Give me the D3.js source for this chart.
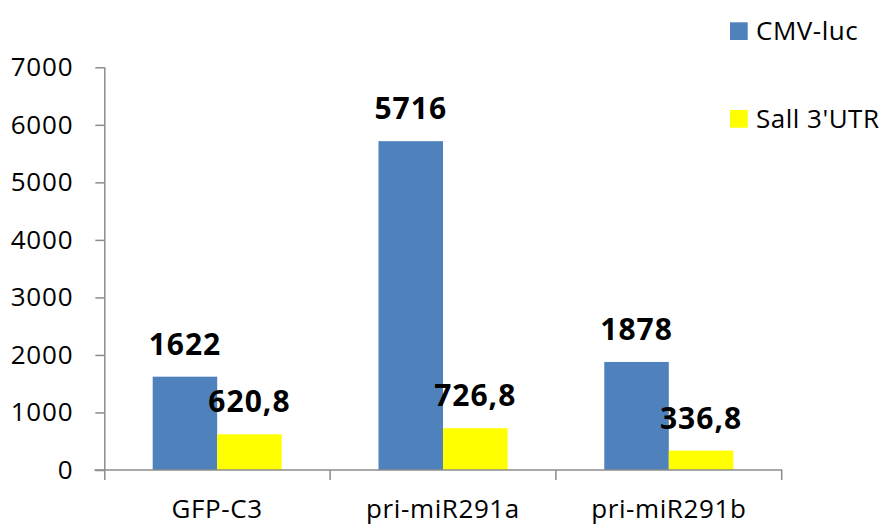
<!DOCTYPE html>
<html>
<head>
<meta charset="utf-8">
<script src="https://cdn.jsdelivr.net/npm/d3@7"></script>
<style>
  html, body { margin: 0; padding: 0; background: #fff; }
  svg { display: block; }
  text { font-family: "Open Sans", sans-serif; fill: #000; }
</style>
</head>
<body>
<svg id="chart" width="886" height="525"></svg>
<script>
// Luciferase readings per construct
const categories = ["GFP-C3", "pri-miR291a", "pri-miR291b"];
const seriesNames = ["CMV-luc", "Sall 3'UTR"];
const cmvLuc = [1622, 5716, 1878];
const sall3UTR = [620.8, 726.8, 336.8];
const yTicks = [0, 1000, 2000, 3000, 4000, 5000, 6000, 7000];
const seriesColors = ["#4F81BD", "#FFFF00"];

const seriesValues = [cmvLuc, sall3UTR];
const rows = categories.map((c, i) => ({
  category: c,
  values: seriesNames.map((s, j) => ({ series: s, value: seriesValues[j][i], idx: j }))
}));

const svg = d3.select("#chart");
const axisColor = "#8c8c8c";

const plot = { left: 104.3, right: 781.7, top: 67.3, bottom: 470 };

const y = d3.scaleLinear().domain([0, 7000]).range([plot.bottom, plot.top]);
const x0 = d3.scaleBand().domain(categories).range([plot.left, plot.right]).paddingInner(0).paddingOuter(0);
const x1 = d3.scaleBand().domain(seriesNames).range([0, x0.bandwidth()]).paddingInner(0).paddingOuter(0.75);

// comma as decimal separator
const locale = d3.formatLocale({ decimal: ",", thousands: "", grouping: [3], currency: ["", ""] });
const fmt = locale.format(".1~f");

// bars
const groups = svg.append("g").selectAll("g")
  .data(rows).join("g")
  .attr("transform", d => `translate(${x0(d.category)},0)`);

groups.selectAll("rect")
  .data(d => d.values).join("rect")
  .attr("x", d => x1(d.series))
  .attr("y", d => y(d.value))
  .attr("width", x1.bandwidth())
  .attr("height", d => y(0) - y(d.value))
  .attr("fill", d => seriesColors[d.idx]);

// value labels
groups.selectAll("text.val")
  .data(d => d.values).join("text")
  .attr("class", "val")
  .attr("x", d => x1(d.series) + x1.bandwidth() / 2)
  .attr("y", d => y(d.value) - 22)
  .attr("text-anchor", "middle")
  .style("font-size", "30px")
  .style("font-weight", "bold")
  .style("letter-spacing", "1px")
  .text(d => fmt(d.value));

// y axis
const yAxis = svg.append("g")
  .attr("transform", `translate(${plot.left},0)`)
  .call(d3.axisLeft(y).tickValues(yTicks).tickSize(9).tickPadding(22).tickFormat(d3.format("d")));
yAxis.select(".domain").attr("d", `M0.5,${plot.top}V${plot.bottom + 10}`);
yAxis.selectAll("path, line").attr("stroke", axisColor).attr("stroke-width", 1.5);
yAxis.selectAll("text")
  .style("font-family", "'Open Sans', sans-serif")
  .style("font-size", "26px")
  .style("letter-spacing", "0.8px")
  .attr("fill", "#000");

// x axis with ticks at category boundaries
const xAxisG = svg.append("g").attr("transform", `translate(0,${plot.bottom})`);
xAxisG.append("line")
  .attr("x1", plot.left - 10).attr("x2", plot.right + 0.5)
  .attr("y1", 0).attr("y2", 0)
  .attr("stroke", axisColor).attr("stroke-width", 1.5);
const bounds = categories.map(c => x0(c) + x0.bandwidth());
xAxisG.selectAll("line.tick")
  .data(bounds).join("line")
  .attr("class", "tick")
  .attr("x1", d => d).attr("x2", d => d)
  .attr("y1", 0).attr("y2", 10)
  .attr("stroke", axisColor).attr("stroke-width", 1.5);
xAxisG.selectAll("text")
  .data(categories).join("text")
  .attr("x", d => x0(d) + x0.bandwidth() / 2)
  .attr("y", 47.5)
  .attr("text-anchor", "middle")
  .style("font-size", "26px")
  .style("letter-spacing", "0.6px")
  .text(d => d);

// legend
const legend = svg.append("g").selectAll("g")
  .data(seriesNames).join("g")
  .attr("transform", (d, i) => `translate(730,${22.3 + i * 87.7})`);
legend.append("rect")
  .attr("width", 17.7).attr("height", 17.7)
  .attr("fill", (d, i) => seriesColors[i]);
legend.append("text")
  .attr("x", 26).attr("y", 17.5)
  .style("font-size", "26px")
  .style("letter-spacing", "0.5px")
  .text(d => d);
</script>
</body>
</html>
